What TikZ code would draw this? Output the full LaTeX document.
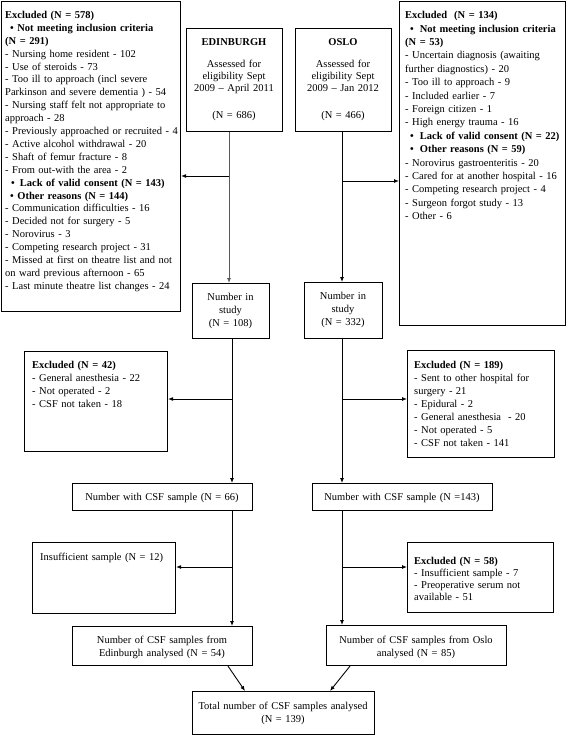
\documentclass[tikz,border=0pt]{standalone}
\usepackage{fontspec}
\setmainfont{Liberation Serif}
\usetikzlibrary{arrows.meta}
\begin{document}
\begin{tikzpicture}[x=1pt,y=-1pt,
  frame/.style={draw, line width=1.1pt, inner sep=0pt, anchor=north west},
  txt/.style={inner sep=0pt, anchor=base west, align=left},
  ctxt/.style={inner sep=0pt, anchor=base, align=center},
  arr/.style={-{Latex[length=5pt,width=4pt]}, line width=0.9pt},
  greyln/.style={draw=black!65}
]
\useasboundingbox (0,0) rectangle (567,735);

% ---------- boxes ----------
\node[frame, minimum width=179pt, minimum height=310pt] (lbox) at (1,1) {};
\node[frame, minimum width=96pt, minimum height=103pt] (edb) at (186,28) {};
\node[frame, minimum width=96pt, minimum height=103pt] (osb) at (295,28) {};
\node[frame, minimum width=166pt, minimum height=324pt] (rbox) at (399,1) {};
\node[frame, minimum width=77pt, minimum height=55pt] (edn) at (192,283) {};
\node[frame, minimum width=78pt, minimum height=56pt] (osn) at (304,282) {};
\node[frame, minimum width=143pt, minimum height=100pt] (ex42) at (24,351) {};
\node[frame, minimum width=147pt, minimum height=107pt] (ex189) at (407,350) {};
\node[frame, minimum width=180pt, minimum height=27pt] (n66) at (72,483) {};
\node[frame, minimum width=180pt, minimum height=27pt] (n143) at (312,483) {};
\node[frame, minimum width=143pt, minimum height=71pt] (ins) at (32,542) {};
\node[frame, minimum width=146pt, minimum height=70pt] (ex58) at (407,542) {};
\node[frame, minimum width=180pt, minimum height=39pt] (eda) at (72,626) {};
\node[frame, minimum width=180pt, minimum height=40pt] (osa) at (326,625) {};
\node[frame, minimum width=182pt, minimum height=43pt] (tot) at (192,691) {};

% ---------- texts ----------
\node[txt, text width=178pt, font=\fontsize{10.5}{12.9}\selectfont] (lboxt) at (5,18.5) {%
\textbf{Excluded (N = 578)}\\
\hspace*{5pt}\textbf{\textbullet\ Not meeting inclusion criteria}\\
\textbf{(N = 291)}\\
- Nursing home resident - 102\\
- Use of steroids - 73\\
- Too ill to approach (incl severe\\
Parkinson and severe dementia ) - 54\\
- Nursing staff felt not appropriate to\\
approach - 28\\
- Previously approached or recruited - 4\\
- Active alcohol withdrawal - 20\\
- Shaft of femur fracture - 8\\
- From out-with the area - 2\\
\hspace*{6pt}\textbf{\textbullet\hspace{5pt}Lack of valid consent (N = 143)}\\
\hspace*{5pt}\textbf{\textbullet\ Other reasons (N = 144)}\\
- Communication difficulties - 16\\
- Decided not for surgery - 5\\
- Norovirus - 3\\
- Competing research project - 31\\
- Missed at first on theatre list and not\\
on ward previous afternoon - 65\\
- Last minute theatre list changes - 24};

\node[ctxt, text width=92pt, font=\fontsize{10.5}{12}\selectfont] (edbt) at (234,45.7) {%
\textbf{EDINBURGH}\\[10pt]
Assessed for\\
eligibility Sept\\
2009 – April 2011\\[15pt]
(N = 686)};

\node[ctxt, text width=92pt, font=\fontsize{10.5}{12}\selectfont] (osbt) at (343,45.7) {%
\textbf{OSLO}\\[10pt]
Assessed for\\
eligibility Sept\\
2009 – Jan 2012\\[15pt]
(N = 466)};

\node[txt, text width=160pt, font=\fontsize{10.5}{13.4}\selectfont] (rboxt) at (405,18.7) {%
\textbf{Excluded\ \ (N = 134)}\\
\hspace*{5pt}\textbf{\textbullet\hspace{6pt}Not meeting inclusion criteria}\\
\textbf{(N = 53)}\\
- Uncertain diagnosis (awaiting\\
further diagnostics) - 20\\
- Too ill to approach - 9\\
- Included earlier - 7\\
- Foreign citizen - 1\\
- High energy trauma - 16\\
\hspace*{5pt}\textbf{\textbullet\hspace{6pt}Lack of valid consent (N = 22)}\\
\hspace*{5pt}\textbf{\textbullet\hspace{6pt}Other reasons (N = 59)}\\
- Norovirus gastroenteritis - 20\\
- Cared for at another hospital - 16\\
- Competing research project - 4\\
- Surgeon forgot study - 13\\
- Other - 6};

\node[ctxt, text width=75pt, font=\fontsize{10.5}{13}\selectfont] (ednt) at (230.5,300.7) {Number in\\study\\(N = 108)};
\node[ctxt, text width=75pt, font=\fontsize{10.5}{13}\selectfont] (osnt) at (343,299.7) {Number in\\study\\(N = 332)};

\node[txt, text width=132pt, font=\fontsize{10.5}{12.8}\selectfont] (ex42t) at (32,368.7) {%
\textbf{Excluded (N = 42)}\\
- General anesthesia - 22\\
- Not operated - 2\\
- CSF not taken - 18};

\node[txt, text width=138pt, font=\fontsize{10.5}{13}\selectfont] (ex189t) at (414,368.7) {%
\textbf{Excluded (N = 189)}\\
- Sent to other hospital for\\
surgery - 21\\
- Epidural - 2\\
- General anesthesia\ \ - 20\\
- Not operated - 5\\
- CSF not taken - 141};

\node[ctxt, text width=176pt, font=\fontsize{10.5}{13}\selectfont] (n66t) at (162,500.7) {Number with CSF sample (N = 66)};
\node[ctxt, text width=176pt, font=\fontsize{10.5}{13}\selectfont] (n143t) at (402,500.7) {Number with CSF sample (N =143)};

\node[txt, text width=132pt, font=\fontsize{10.5}{12.5}\selectfont] (inst) at (40,560.7) {Insufficient sample (N = 12)};

\node[txt, text width=138pt, font=\fontsize{10.5}{12}\selectfont] (ex58t) at (414,564) {%
\textbf{Excluded (N = 58)}\\
- Insufficient sample - 7\\
- Preoperative serum not\\
available - 51};

\node[ctxt, text width=176pt, font=\fontsize{10.5}{13}\selectfont] (edat) at (162,643.7) {Number of CSF samples from\\Edinburgh analysed (N = 54)};
\node[ctxt, text width=176pt, font=\fontsize{10.5}{13}\selectfont] (osat) at (416,643.7) {Number of CSF samples from Oslo\\analysed (N = 85)};
\node[ctxt, text width=178pt, font=\fontsize{10.5}{13}\selectfont] (tott) at (283,709.7) {Total number of CSF samples analysed\\(N = 139)};

% ---------- connectors ----------
\coordinate (edx) at (229,0);
\coordinate (edx2) at (232,0);
\coordinate (osx) at (342,0);
\coordinate (ej1) at (229,176);
\coordinate (oj1) at (342,181);
\coordinate (ej2) at (232,399);
\coordinate (oj2) at (342,399);
\coordinate (ej3) at (232,567);
\coordinate (oj3) at (342,567);
\coordinate (d1s) at (228,0);
\coordinate (d1e) at (245,0);
\coordinate (d2s) at (350,0);
\coordinate (d2e) at (330,0);

\draw[arr, greyln] (edb.south -| edx) -- (edn.north -| edx);
\draw[arr] (ej1) -- (lbox.east |- ej1);
\draw[arr] (osb.south -| osx) -- (osn.north -| osx);
\draw[arr] (oj1) -- (rbox.west |- oj1);

\draw[arr] (edn.south -| edx2) -- (n66.north -| edx2);
\draw[arr] (ej2) -- (ex42.east |- ej2);
\draw[arr] (osn.south -| osx) -- (n143.north -| osx);
\draw[arr] (oj2) -- (ex189.west |- oj2);

\draw[arr] (n66.south -| edx2) -- (eda.north -| edx2);
\draw[arr] (ej3) -- (ins.east |- ej3);
\draw[arr] (n143.south -| osx) -- (osa.north -| osx);
\draw[arr] (oj3) -- (ex58.west |- oj3);

\draw[arr] (eda.south -| d1s) -- (tot.north -| d1e);
\draw[arr] (osa.south -| d2s) -- (tot.north -| d2e);
\end{tikzpicture}
\end{document}
